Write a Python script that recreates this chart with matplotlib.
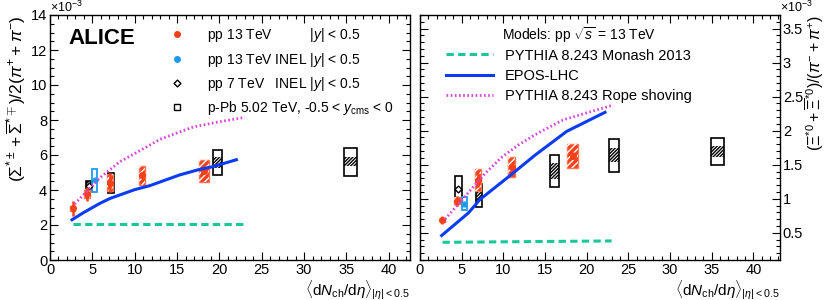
import matplotlib
matplotlib.use("Agg")
import matplotlib.pyplot as plt
from matplotlib.lines import Line2D
from matplotlib.ticker import MultipleLocator, FuncFormatter

plt.rcParams['font.family'] = ['Liberation Sans', 'DejaVu Sans']
plt.rcParams['mathtext.fontset'] = 'custom'
plt.rcParams['mathtext.rm'] = 'Liberation Sans'
plt.rcParams['mathtext.it'] = 'Liberation Sans:italic'
plt.rcParams['mathtext.bf'] = 'Liberation Sans:bold'
plt.rcParams['hatch.linewidth'] = 1.0

# ---------------- data (values in units of 1e-3) ----------------
# Left panel: Sigma*/pi
s_pp13_x = [2.7, 4.4, 7.1, 10.9, 18.2]
s_pp13_y = [2.95, 3.78, 4.42, 4.83, 5.10]
s_pp13_stat = [0.45, 0.42, 0.55, 0.10, 0.10]
s_pp13_syst = [0.15, 0.25, 0.48, 0.54, 0.62]
s_pp13_xw = [0.3, 0.35, 0.35, 0.35, 0.6]

s_inel_x = [5.3]
s_inel_y = [4.55]
s_inel_syst = [0.66]
s_inel_xw = [0.3]

s_pp7_x = [4.6]
s_pp7_y = [4.22]
s_pp7_syst = [0.30]
s_pp7_xw = [0.4]

s_ppb_x = [7.2, 19.8, 35.5]
s_ppb_y = [4.40, 5.58, 5.62]
s_ppb_syst = [0.55, 0.72, 0.80]
s_ppb_unc = [0.30, 0.30, 0.25]
s_ppb_xw = [0.4, 0.5, 0.8]

s_monash_x = [2.7, 23.0]
s_monash_y = [2.05, 2.05]
s_epos_x = [2.6, 4.0, 5.9, 7.1, 10.0, 11.8, 15.3, 17.6, 19.2, 22.0]
s_epos_y = [2.30, 2.72, 3.24, 3.52, 4.02, 4.25, 4.86, 5.17, 5.33, 5.73]
s_rope_x = [2.9, 4.1, 5.9, 8.2, 10.8, 13.0, 16.9, 20.0, 23.0]
s_rope_y = [3.20, 3.80, 4.70, 5.60, 6.30, 6.90, 7.60, 7.90, 8.15]

# Right panel: Xi*0/pi
x_pp13_x = [2.68, 4.4, 7.0, 11.0, 18.3]
x_pp13_y = [0.69, 0.97, 1.28, 1.47, 1.63]
x_pp13_stat = [0.06, 0.07, 0.10, 0.05, 0.05]
x_pp13_syst = [0.03, 0.05, 0.16, 0.15, 0.18]
x_pp13_xw = [0.3, 0.35, 0.35, 0.45, 0.65]

x_inel_x = [5.3]
x_inel_y = [0.93]
x_inel_syst = [0.095]
x_inel_xw = [0.3]

x_pp7_x = [4.6]
x_pp7_y = [1.15]
x_pp7_syst = [0.18]
x_pp7_xw = [0.4]

x_ppb_x = [7.1, 16.1, 23.3, 35.7]
x_ppb_y = [1.05, 1.41, 1.64, 1.70]
x_ppb_syst = [0.17, 0.23, 0.24, 0.20]
x_ppb_unc = [0.08, 0.12, 0.10, 0.08]
x_ppb_xw = [0.35, 0.55, 0.6, 0.8]

x_monash_x = [2.7, 23.0]
x_monash_y = [0.36, 0.38]
x_epos_x = [2.6, 5.8, 7.2, 10.8, 13.8, 17.6, 22.2]
x_epos_y = [0.46, 0.79, 0.99, 1.34, 1.64, 1.99, 2.27]
x_rope_x = [3.0, 5.8, 7.8, 9.8, 11.8, 13.8, 17.2, 23.0]
x_rope_y = [0.70, 1.09, 1.37, 1.61, 1.79, 1.94, 2.16, 2.37]

# ---------------- styles ----------------
RED = '#F5401A'
BLUE_D = '#1E9BEF'
EPOS_C = '#0A3CF5'
MON_C = '#19C79A'
ROPE_C = '#D844DA'
MON_LS = (0, (2.4, 1.4))
ROPE_LS = (0, (0.6, 0.9))
RED_HATCH = '/' * 5
BLK_HATCH = '/' * 10


def boxes(ax, x, y, syst, xw, face, edge, hatch=None, hatchcol='white', lw=1.0, z=2):
    bot = [yi - si for yi, si in zip(y, syst)]
    hgt = [2 * si for si in syst]
    wid = [2 * w for w in xw]
    ax.bar(x, hgt, bottom=bot, width=wid, color=face, edgecolor=edge, linewidth=lw, zorder=z)
    if hatch:
        ax.bar(x, hgt, bottom=bot, width=wid, color='none', edgecolor=hatchcol,
               linewidth=0, hatch=hatch, zorder=z + 0.1)


def draw_panel(ax, d):
    (pp13, inel, pp7, ppb, models) = d
    # p-Pb
    x, y, syst, unc, xw = ppb
    boxes(ax, x, y, unc, xw, 'none', 'none', hatch=BLK_HATCH, hatchcol='black', z=2)
    boxes(ax, x, y, syst, xw, 'none', 'black', lw=1.2, z=2.2)
    # pp 7
    x, y, syst, xw, hatched = pp7
    if hatched:
        boxes(ax, x, y, syst, xw, 'none', 'black', hatch=BLK_HATCH, hatchcol='black', lw=1.2, z=2.3)
    else:
        boxes(ax, x, y, syst, xw, 'none', 'black', lw=1.2, z=2.3)
    ax.plot(x, y, ls='none', marker='D', ms=3.5, mfc='white', mec='black', mew=1.0, zorder=3)
    # pp13 INEL
    x, y, syst, xw = inel
    boxes(ax, x, y, syst, xw, 'none', BLUE_D, lw=1.3, z=2.4)
    ax.plot(x, y, ls='none', marker='o', ms=3.5, color=BLUE_D, zorder=3)
    # pp 13
    x, y, stat, syst, xw = pp13
    boxes(ax, x, y, syst, xw, RED, '#FF7755', hatch=RED_HATCH, hatchcol='white', lw=1.0, z=2.5)
    ax.errorbar(x, y, yerr=stat, fmt='o', ms=4, color=RED, elinewidth=1.8, capsize=0, zorder=3.5)
    # models
    (mx, my), (ex, ey), (rx, ry) = models
    ax.plot(mx, my, color=MON_C, lw=2.2, ls=MON_LS, zorder=4)
    ax.plot(ex, ey, color=EPOS_C, lw=2.2, zorder=4)
    ax.plot(rx, ry, color=ROPE_C, lw=2.0, ls=ROPE_LS, zorder=4)


def style_axis(ax):
    ax.tick_params(which='both', direction='in', top=True, bottom=True, left=True, right=True,
                   labelsize=10.5, pad=2)
    ax.tick_params(which='major', length=6, width=0.8)
    ax.tick_params(which='minor', length=3, width=0.8)
    for s in ax.spines.values():
        s.set_linewidth(1.0)


fig = plt.figure(figsize=(8.3, 3.0), dpi=100)
ax1 = fig.add_axes([50 / 830, 40 / 300, 360 / 830, 245 / 300])
ax2 = fig.add_axes([420 / 830, 40 / 300, 360 / 830, 245 / 300])

draw_panel(ax1, ((s_pp13_x, s_pp13_y, s_pp13_stat, s_pp13_syst, s_pp13_xw),
                 (s_inel_x, s_inel_y, s_inel_syst, s_inel_xw),
                 (s_pp7_x, s_pp7_y, s_pp7_syst, s_pp7_xw, True),
                 (s_ppb_x, s_ppb_y, s_ppb_syst, s_ppb_unc, s_ppb_xw),
                 ((s_monash_x, s_monash_y), (s_epos_x, s_epos_y), (s_rope_x, s_rope_y))))
draw_panel(ax2, ((x_pp13_x, x_pp13_y, x_pp13_stat, x_pp13_syst, x_pp13_xw),
                 (x_inel_x, x_inel_y, x_inel_syst, x_inel_xw),
                 (x_pp7_x, x_pp7_y, x_pp7_syst, x_pp7_xw, False),
                 (x_ppb_x, x_ppb_y, x_ppb_syst, x_ppb_unc, x_ppb_xw),
                 ((x_monash_x, x_monash_y), (x_epos_x, x_epos_y), (x_rope_x, x_rope_y))))

ax1.set_xlim(0, 42.5)
ax1.set_ylim(0, 14)
ax1.xaxis.set_major_locator(MultipleLocator(5))
ax1.xaxis.set_minor_locator(MultipleLocator(1))
ax1.yaxis.set_major_locator(MultipleLocator(2))
ax1.yaxis.set_minor_locator(MultipleLocator(0.5))
style_axis(ax1)

ax2.set_xlim(0, 43.2)
ax2.set_ylim(0.1, 3.7)
ax2.xaxis.set_major_locator(MultipleLocator(5))
ax2.xaxis.set_minor_locator(MultipleLocator(1))
ax2.yaxis.set_major_locator(MultipleLocator(0.5))
ax2.yaxis.set_minor_locator(MultipleLocator(0.1))
style_axis(ax2)
ax2.tick_params(axis='y', labelleft=False, labelright=True)
ax2.yaxis.set_major_formatter(FuncFormatter(lambda v, p: ('%g' % v)))

xlab = r'$\langle\mathrm{d}N_{\mathrm{ch}}/\mathrm{d}\eta\rangle_{|\eta|<0.5}$'
ax1.set_xlabel(xlab, fontsize=11, loc='right', labelpad=1)
ax2.set_xlabel(xlab, fontsize=11, loc='right', labelpad=1)

ax1.set_ylabel(r'$(\Sigma^{*\pm}+\overline{\Sigma}^{*\mp})/2(\pi^{+}+\pi^{-})$', fontsize=12.5,
               loc='top', labelpad=2)
ax2.yaxis.set_label_position('right')
ax2.set_ylabel(r'$(\Xi^{*0}+\overline{\Xi}^{*0})/(\pi^{-}+\pi^{+})$', fontsize=11.5,
               loc='top', labelpad=0)

ax1.annotate(r'$\times10^{-3}$', xy=(0.0, 1.0), xycoords='axes fraction', xytext=(0, 0),
             textcoords='offset points', fontsize=9, ha='left', va='bottom')
ax2.annotate(r'$\times10^{-3}$', xy=(1.0, 1.0), xycoords='axes fraction', xytext=(0, 0),
             textcoords='offset points', fontsize=9, ha='left', va='bottom')

ax1.text(0.05, 0.945, 'ALICE', transform=ax1.transAxes, fontsize=16, fontweight='bold',
         ha='left', va='top')

h1 = [Line2D([], [], ls='none', marker='o', ms=4, color=RED),
      Line2D([], [], ls='none', marker='o', ms=4, color=BLUE_D),
      Line2D([], [], ls='none', marker='D', ms=3.5, mfc='white', mec='black'),
      Line2D([], [], ls='none', marker='s', ms=4, mfc='white', mec='black')]
l1 = ['pp 13 TeV          $|y|$ < 0.5',
      'pp 13 TeV INEL $|y|$ < 0.5',
      'pp 7 TeV   INEL $|y|$ < 0.5',
      'p-Pb 5.02 TeV, -0.5 < $y_{\mathrm{cms}}$ < 0']
leg1 = ax1.legend(h1, l1, loc='upper left', bbox_to_anchor=(0.325, 0.965), frameon=False,
                  fontsize=10, handlelength=1.0, handletextpad=1.7, labelspacing=0.45,
                  borderaxespad=0, borderpad=0.2)

ax2.text(0.228, 0.918, r'Models: pp $\sqrt{s}$ = 13 TeV', transform=ax2.transAxes,
         fontsize=10, ha='left', va='center')
h2 = [Line2D([], [], color=MON_C, lw=2.2, ls=MON_LS),
      Line2D([], [], color=EPOS_C, lw=2.2),
      Line2D([], [], color=ROPE_C, lw=2.0, ls=ROPE_LS)]
l2 = ['PYTHIA 8.243 Monash 2013', 'EPOS-LHC', 'PYTHIA 8.243 Rope shoving']
leg2 = ax2.legend(h2, l2, loc='upper left', bbox_to_anchor=(0.065, 0.875), frameon=False,
                  fontsize=10.5, handlelength=3.2, handletextpad=0.8, labelspacing=0.42,
                  borderaxespad=0, borderpad=0.2)

fig.savefig('out.png', dpi=100)
